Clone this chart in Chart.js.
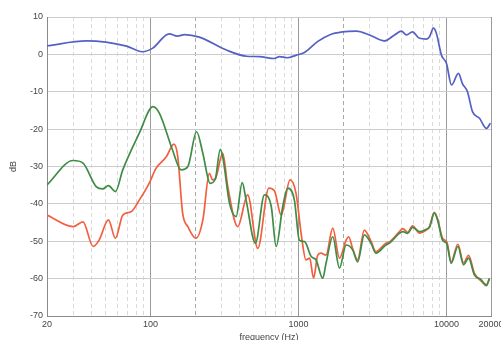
<!DOCTYPE html>
<html>
<head>
<meta charset="utf-8">
<script src="https://cdn.jsdelivr.net/npm/chart.js@4.4.0/dist/chart.umd.min.js"></script>
<style>
  body { margin: 0; background: #fff; }
  canvas { display: block; }
</style>
</head>
<body>
<canvas id="fr-chart" width="501" height="340"></canvas>
<script>
// frequency response values
const xTicks = [20, 100, 1000, 10000, 20000];
const minorTicks = [30, 40, 50, 60, 70, 80, 90, 200, 300, 400, 500, 600, 700, 800, 900,
    2000, 3000, 4000, 5000, 6000, 7000, 8000, 9000];

const blueFreq = [20, 37, 69, 88, 103, 134, 152, 170, 214, 326, 446, 545, 688, 744, 843, 969, 1098,
    1344, 1619, 1983, 2464, 3019, 3811, 4457, 4970, 5372, 5895, 6573, 7330, 7679, 8170, 8557,
    9250, 10000, 10820, 12050, 12820, 13870, 14990, 16720, 18640, 19830];
const blueDb = [2.3, 3.6, 2.2, 0.7, 1.6, 5.5, 4.9, 5.3, 4.6, 1.15, -0.5, -0.6, -1.1, -0.6, -0.9, -0.2, 0.5,
    3.4, 5.2, 6.0, 6.2, 5.2, 3.6, 5.2, 6.2, 5.2, 6.0, 4.3, 4.1, 4.7, 7.0, 5.6,
    -0.2, -2.4, -8.2, -5.1, -7.8, -10.0, -15.3, -17.1, -19.8, -18.4];

const greenFreq = [20, 30, 35, 43, 47.6, 52, 58, 65, 84, 104, 115, 141, 161, 179, 205, 226, 253, 275,
    296, 308, 342, 379, 417, 443, 512, 589, 655, 707, 783, 847, 939, 1014, 1100, 1220, 1315,
    1459, 1536, 1705, 1893, 2100, 2325, 2511, 2786, 3090, 3340, 3900, 4127, 4800, 5073, 5470,
    5900, 6580, 7300, 7680, 8280, 8710, 9410, 10060, 10760, 11950, 13050, 14120, 15430, 17100,
    18640, 19500];
const greenDb = [-34.9, -28.4, -29.1, -35.4, -36.0, -35.1, -36.7, -30.9, -21.1, -14.0, -15.8, -25.6,
    -30.9, -30.0, -20.7, -26.5, -34.5, -33.2, -25.4, -27.4, -39.8, -43.4, -34.3, -39.0, -50.5,
    -37.6, -40.7, -51.4, -40.7, -35.8, -39.0, -49.7, -50.1, -54.1, -55.0, -59.9, -55.9, -48.8,
    -57.2, -51.0, -52.3, -55.5, -48.3, -50.5, -53.2, -51.0, -50.5, -47.9, -47.4, -47.9, -46.3,
    -47.4, -46.8, -46.3, -42.5, -44.3, -49.7, -50.7, -55.9, -51.4, -56.3, -54.5, -59.0, -60.2,
    -61.9, -59.9];

const redFreq = [20, 30, 35, 41, 45, 52, 58, 65, 74, 84, 98, 109, 128, 144, 153, 165, 179, 203, 226,
    250, 263, 275, 308, 333, 389, 454, 531, 631, 688, 764, 878, 963, 1050, 1124, 1191, 1265,
    1350, 1422, 1536, 1705, 1893, 2100, 2185, 2325, 2511, 2786, 3090, 3340, 3900, 4127, 4800,
    5073, 5470, 5900, 6580, 7300, 7680, 8280, 8710, 9410, 10060, 10760, 11950, 13050, 14120,
    15430, 17100, 18640, 19500];
const redDb = [-43.0, -46.1, -44.8, -51.4, -49.7, -44.3, -49.2, -43.0, -42.1, -39.0, -34.5, -30.5,
    -27.4, -24.0, -27.4, -42.5, -46.1, -49.2, -44.3, -31.8, -33.6, -33.2, -26.5, -35.4, -46.1,
    -37.6, -51.9, -35.8, -36.5, -43.0, -33.6, -37.2, -48.8, -55.0, -54.5, -59.9, -53.7, -53.2,
    -53.7, -46.5, -54.5, -49.7, -48.8, -52.0, -55.0, -47.0, -50.0, -52.8, -50.5, -50.2, -47.5,
    -46.6, -47.6, -45.9, -47.8, -47.0, -46.0, -42.3, -44.0, -49.2, -50.2, -55.5, -50.8, -55.8,
    -53.8, -58.5, -60.6, -61.6, -60.2];

function toPoints(freq, db) {
    return freq.map((f, i) => ({ x: f, y: db[i] }));
}

const fontFamily = '"Liberation Sans", Arial, sans-serif';

new Chart(document.getElementById('fr-chart').getContext('2d'), {
    type: 'line',
    data: {
        datasets: [
            { label: 'blue', data: toPoints(blueFreq, blueDb), borderColor: '#5560c4' },
            { label: 'green', data: toPoints(greenFreq, greenDb), borderColor: '#3f8c46' },
            { label: 'red', data: toPoints(redFreq, redDb), borderColor: '#f25f3f' }
        ]
    },
    options: {
        responsive: false,
        animation: false,
        devicePixelRatio: 1,
        layout: { padding: { left: 0, right: 10, top: 17, bottom: 0 } },
        elements: {
            point: { radius: 0 },
            line: { borderWidth: 1.7, cubicInterpolationMode: 'monotone', fill: false }
        },
        plugins: { legend: { display: false }, tooltip: { enabled: false } },
        scales: {
            x: {
                type: 'logarithmic',
                position: 'bottom',
                min: 20,
                max: 20000,
                afterBuildTicks: (scale) => { scale.ticks = xTicks.map(v => ({ value: v })); },
                afterFit: (scale) => { scale.height = 24; scale.paddingLeft = 0; scale.paddingRight = 0; },
                grid: {
                    drawTicks: false,
                    color: (ctx) => ctx.tick && ctx.tick.value === 20 ? 'rgba(0,0,0,0)' : '#9a9a9a'
                },
                border: { color: '#8a8a8a', width: 1 },
                ticks: {
                    autoSkip: false,
                    maxRotation: 0,
                    padding: 3,
                    color: '#444',
                    font: { family: fontFamily, size: 9 },
                    callback: (v) => String(v)
                },
                title: {
                    display: true,
                    text: 'frequency (Hz)',
                    color: '#444',
                    font: { family: fontFamily, size: 9 },
                    padding: { top: 0, bottom: -3 }
                }
            },
            x2: {
                type: 'logarithmic',
                position: 'top',
                min: 20,
                max: 20000,
                afterBuildTicks: (scale) => { scale.ticks = minorTicks.map(v => ({ value: v })); },
                afterFit: (scale) => { scale.height = 0; scale.paddingLeft = 0; scale.paddingRight = 0; },
                grid: {
                    drawTicks: false,
                    color: (ctx) => {
                        const v = ctx.tick ? ctx.tick.value : 0;
                        return (v === 200 || v === 2000) ? '#a8a8a8' : '#dadada';
                    }
                },
                border: { display: false, dash: [4, 3] },
                ticks: { display: false }
            },
            y: {
                type: 'linear',
                min: -70,
                max: 10,
                afterFit: (scale) => { scale.width = 47; },
                grid: { drawTicks: false, color: '#cccccc' },
                border: { color: '#8a8a8a', width: 1 },
                ticks: {
                    stepSize: 10,
                    padding: 4,
                    color: '#444',
                    font: { family: fontFamily, size: 9 }
                },
                title: {
                    display: true,
                    text: 'dB',
                    color: '#444',
                    font: { family: fontFamily, size: 9 },
                    padding: { top: 8, bottom: 0 }
                }
            }
        }
    }
});
</script>
</body>
</html>
